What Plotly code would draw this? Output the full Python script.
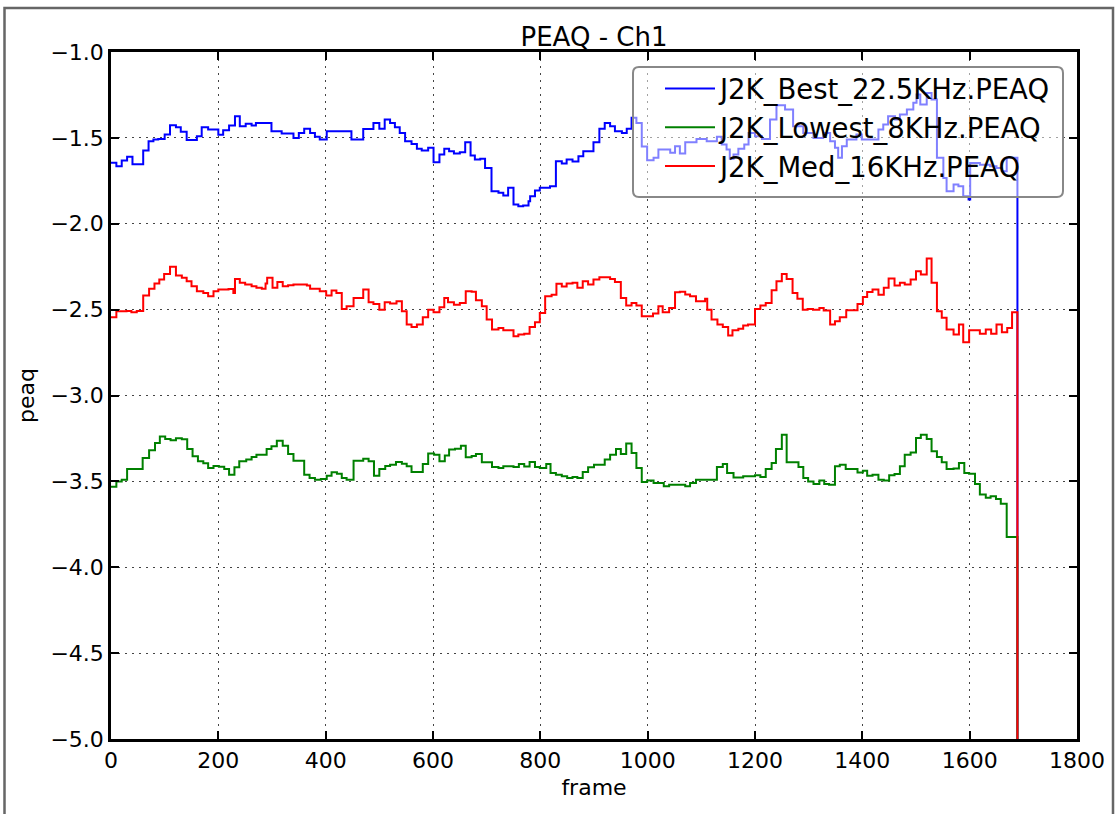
import plotly.graph_objects as go

# ---- data (step starts: frame, value) ----
best_x = [0, 10, 20, 30, 40, 60, 70, 79, 88, 100, 110, 121, 130, 141, 160, 169, 181, 200, 209, 220,
          231, 240, 251, 262, 270, 299, 318, 340, 350, 360, 371, 380, 389, 402, 448, 470, 489, 500, 510, 520,
          529, 538, 548, 560, 570, 579, 591, 601, 612, 621, 630, 639, 650, 660, 670, 678, 688, 697, 709, 722,
          731, 740, 750, 759, 768, 778, 781, 790, 799, 818, 829, 840, 849, 860, 871, 880, 899, 910, 920, 930,
          939, 952, 961, 970, 979, 989, 999, 1011, 1020, 1042, 1051, 1060, 1070, 1091, 1110, 1129, 1138, 1147, 1153, 1160,
          1169, 1180, 1188, 1200, 1213, 1228, 1240, 1256, 1271, 1290, 1309, 1327, 1340, 1349, 1355, 1362, 1371, 1389, 1399, 1430,
          1439, 1448, 1461, 1470, 1483, 1495, 1501, 1508, 1520, 1529, 1539, 1551, 1557, 1570, 1579, 1588, 1598, 1601, 1619, 1638,
          1650, 1660, 1669, 1689]
best_y = [-1.645, -1.665, -1.632, -1.61, -1.653, -1.574, -1.519, -1.51, -1.506, -1.48, -1.426, -1.438, -1.465, -1.512, -1.49, -1.438, -1.451, -1.482, -1.455, -1.428,
          -1.374, -1.432, -1.418, -1.428, -1.414, -1.461, -1.475, -1.5, -1.471, -1.447, -1.471, -1.494, -1.51, -1.461, -1.51, -1.449, -1.413, -1.447, -1.393, -1.413,
          -1.438, -1.471, -1.519, -1.535, -1.564, -1.574, -1.558, -1.642, -1.597, -1.564, -1.578, -1.591, -1.583, -1.525, -1.603, -1.626, -1.622, -1.675, -1.811, -1.82,
          -1.836, -1.791, -1.888, -1.898, -1.894, -1.869, -1.84, -1.807, -1.791, -1.781, -1.636, -1.649, -1.626, -1.638, -1.607, -1.578, -1.525, -1.447, -1.413, -1.432,
          -1.461, -1.471, -1.447, -1.383, -1.413, -1.55, -1.63, -1.616, -1.568, -1.587, -1.549, -1.591, -1.525, -1.506, -1.519, -1.494, -1.539, -1.568, -1.622, -1.597,
          -1.564, -1.539, -1.471, -1.49, -1.506, -1.393, -1.31, -1.335, -1.432, -1.471, -1.5, -1.471, -1.519, -1.558, -1.616, -1.549, -1.51, -1.48, -1.51, -1.451,
          -1.422, -1.374, -1.393, -1.364, -1.335, -1.296, -1.248, -1.306, -1.238, -1.277, -1.616, -1.733, -1.811, -1.772, -1.782, -1.84, -1.859, -1.646, -1.656, -1.665,
          -1.675, -1.694, -1.616, -6.0]

lowest_x = [0, 10, 20, 30, 59, 71, 82, 91, 101, 111, 121, 132, 142, 152, 162, 172, 181, 191, 201, 211,
            220, 230, 239, 252, 262, 271, 290, 299, 309, 320, 330, 340, 360, 370, 380, 391, 402, 411, 421, 430,
            439, 452, 470, 480, 490, 500, 511, 520, 531, 542, 551, 560, 581, 591, 602, 612, 622, 630, 641, 652,
            661, 672, 680, 691, 710, 722, 731, 750, 760, 770, 780, 790, 799, 811, 819, 829, 840, 850, 860, 869,
            879, 889, 900, 920, 930, 941, 950, 960, 970, 979, 989, 999, 1011, 1030, 1040, 1070, 1079, 1090, 1129, 1140,
            1148, 1160, 1178, 1200, 1210, 1220, 1231, 1239, 1250, 1259, 1281, 1290, 1299, 1309, 1320, 1329, 1338, 1349, 1358, 1369,
            1391, 1401, 1409, 1419, 1430, 1440, 1450, 1460, 1470, 1479, 1490, 1500, 1509, 1520, 1529, 1539, 1548, 1557, 1570, 1580,
            1590, 1599, 1610, 1619, 1630, 1639, 1649, 1658, 1669, 1689]
lowest_y = [-3.532, -3.5, -3.49, -3.428, -3.364, -3.319, -3.276, -3.238, -3.253, -3.26, -3.249, -3.255, -3.311, -3.354, -3.383, -3.395, -3.422, -3.41, -3.415, -3.428,
            -3.461, -3.418, -3.383, -3.373, -3.358, -3.345, -3.311, -3.296, -3.263, -3.292, -3.341, -3.38, -3.461, -3.48, -3.49, -3.486, -3.467, -3.447, -3.455, -3.48,
            -3.49, -3.38, -3.368, -3.383, -3.467, -3.428, -3.41, -3.403, -3.387, -3.397, -3.412, -3.445, -3.399, -3.338, -3.345, -3.383, -3.35, -3.315, -3.31, -3.292,
            -3.36, -3.352, -3.341, -3.389, -3.416, -3.422, -3.412, -3.416, -3.399, -3.414, -3.387, -3.416, -3.422, -3.399, -3.451, -3.461, -3.47, -3.48, -3.474, -3.48,
            -3.445, -3.418, -3.403, -3.373, -3.345, -3.311, -3.341, -3.28, -3.335, -3.422, -3.503, -3.495, -3.51, -3.529, -3.519, -3.529, -3.51, -3.49, -3.416, -3.399,
            -3.451, -3.477, -3.47, -3.465, -3.474, -3.428, -3.393, -3.311, -3.228, -3.389, -3.416, -3.48, -3.5, -3.515, -3.495, -3.515, -3.519, -3.412, -3.403, -3.428,
            -3.449, -3.438, -3.467, -3.462, -3.49, -3.495, -3.465, -3.457, -3.412, -3.345, -3.332, -3.247, -3.228, -3.253, -3.325, -3.358, -3.389, -3.428, -3.425, -3.393,
            -3.451, -3.455, -3.515, -3.577, -3.596, -3.587, -3.603, -3.631, -3.824, -6.0]

med_x = [0, 10, 29, 38, 48, 60, 71, 81, 90, 99, 110, 121, 132, 141, 150, 160, 172, 181, 191, 200,
         219, 228, 231, 240, 250, 262, 271, 281, 288, 291, 301, 310, 320, 330, 340, 365, 371, 389, 401, 411,
         420, 430, 439, 452, 470, 480, 489, 500, 510, 520, 532, 542, 551, 560, 570, 581, 591, 601, 612, 621,
         628, 639, 650, 661, 672, 680, 691, 700, 710, 722, 731, 750, 759, 770, 780, 790, 799, 809, 821, 830,
         840, 849, 860, 869, 879, 889, 899, 910, 930, 939, 950, 960, 970, 979, 989, 1010, 1020, 1028, 1040, 1051,
         1060, 1070, 1079, 1090, 1107, 1111, 1119, 1130, 1140, 1150, 1158, 1169, 1178, 1187, 1200, 1210, 1220, 1231, 1240, 1250,
         1259, 1270, 1279, 1289, 1298, 1308, 1320, 1328, 1340, 1349, 1358, 1370, 1391, 1401, 1409, 1419, 1430, 1440, 1449, 1460,
         1470, 1479, 1490, 1500, 1509, 1520, 1529, 1539, 1548, 1557, 1570, 1580, 1588, 1599, 1619, 1630, 1640, 1650, 1660, 1670,
         1679, 1689]
med_y = [-2.545, -2.51, -2.508, -2.515, -2.508, -2.418, -2.379, -2.348, -2.325, -2.292, -2.251, -2.302, -2.315, -2.335, -2.364, -2.393, -2.403, -2.422, -2.393, -2.383,
         -2.38, -2.403, -2.321, -2.344, -2.354, -2.364, -2.373, -2.379, -2.348, -2.315, -2.373, -2.339, -2.364, -2.358, -2.354, -2.36, -2.379, -2.393, -2.418, -2.389,
         -2.403, -2.496, -2.481, -2.432, -2.383, -2.457, -2.467, -2.5, -2.457, -2.465, -2.451, -2.51, -2.587, -2.601, -2.587, -2.545, -2.5, -2.515, -2.486, -2.432,
         -2.457, -2.471, -2.461, -2.393, -2.396, -2.445, -2.48, -2.558, -2.616, -2.607, -2.62, -2.655, -2.645, -2.64, -2.601, -2.573, -2.519, -2.422, -2.413, -2.35,
         -2.366, -2.348, -2.344, -2.373, -2.335, -2.354, -2.325, -2.311, -2.321, -2.339, -2.432, -2.476, -2.461, -2.476, -2.539, -2.523, -2.481, -2.515, -2.49, -2.399,
         -2.396, -2.412, -2.422, -2.451, -2.437, -2.5, -2.558, -2.587, -2.601, -2.651, -2.62, -2.612, -2.593, -2.587, -2.496, -2.476, -2.461, -2.387, -2.335, -2.292,
         -2.321, -2.403, -2.437, -2.5, -2.497, -2.5, -2.49, -2.505, -2.587, -2.568, -2.545, -2.503, -2.467, -2.426, -2.397, -2.383, -2.413, -2.373, -2.319, -2.36,
         -2.344, -2.354, -2.325, -2.276, -2.296, -2.203, -2.344, -2.51, -2.548, -2.616, -2.645, -2.587, -2.69, -2.62, -2.64, -2.616, -2.64, -2.587, -2.632, -2.607,
         -2.515, -6.0]

series_names = ["J2K_Best_22.5KHz.PEAQ", "J2K_Lowest_8KHz.PEAQ", "J2K_Med_16KHz.PEAQ"]
series_colors = ["#0000ff", "#008000", "#ff0000"]
x_ticks = [0, 200, 400, 600, 800, 1000, 1200, 1400, 1600, 1800]
y_ticks = [-1.0, -1.5, -2.0, -2.5, -3.0, -3.5, -4.0, -4.5, -5.0]

FONT = "DejaVu Sans"

fig = go.Figure()
for name, xs, ys, col in zip(series_names, [best_x, lowest_x, med_x], [best_y, lowest_y, med_y], series_colors):
    fig.add_trace(go.Scatter(x=xs, y=ys, mode="lines", name=name, legendgroup=name,
                             line=dict(color=col, width=2, shape="hv")))

W, H = 1117, 814
L, R, T, B = 111, 40, 52, 75
pw, ph = W - L - R, H - T - B


def px2paper(px, py):
    return (px - L) / pw, (H - B - py) / ph


# outer frame
fx0, fy1 = px2paper(4.5, 8)
fx1, fy0 = px2paper(1113, 830)

# legend box (rounded rectangle)
lx0, ly1 = px2paper(633, 67)
lx1, ly0 = px2paper(1063, 197)
rx, ry = 6 / pw, 6 / ph
legend_path = (
    f"M {lx0 + rx},{ly1} L {lx1 - rx},{ly1} Q {lx1},{ly1} {lx1},{ly1 - ry} "
    f"L {lx1},{ly0 + ry} Q {lx1},{ly0} {lx1 - rx},{ly0} "
    f"L {lx0 + rx},{ly0} Q {lx0},{ly0} {lx0},{ly0 + ry} "
    f"L {lx0},{ly1 - ry} Q {lx0},{ly1} {lx0 + rx},{ly1} Z"
)

axis_common = dict(
    showline=True, linecolor="black", linewidth=2.5, mirror="ticks",
    ticks="inside", ticklen=8, tickwidth=1.5, tickcolor="black",
    showgrid=True, gridcolor="#444444", gridwidth=1, griddash="2px,5px",
    zeroline=False, automargin=False,
    tickfont=dict(family=FONT, size=22, color="black"),
)

leg_x, leg_y = px2paper(660, 64)

fig.update_layout(
    width=W, height=H,
    margin=dict(l=L, r=R, t=T, b=B),
    paper_bgcolor="white", plot_bgcolor="white",
    font=dict(family=FONT, color="black"),
    title=dict(text="PEAQ - Ch1", x=0.5, xref="paper", xanchor="center",
               y=1 - 37 / H, yref="container", yanchor="middle",
               font=dict(family=FONT, size=26, color="black")),
    xaxis=dict(range=[0, 1800], tickvals=x_ticks, ticktext=[str(v) for v in x_ticks],
               title=dict(text="frame", font=dict(family=FONT, size=22), standoff=8),
               **axis_common),
    yaxis=dict(range=[-5, -1], tickvals=y_ticks, ticktext=["\u2212%.1f" % abs(v) for v in y_ticks],
               title=dict(text="peaq", font=dict(family=FONT, size=22), standoff=10),
               **axis_common),
    legend=dict(x=leg_x, y=leg_y, xanchor="left", yanchor="top",
                bgcolor="rgba(0,0,0,0)", borderwidth=0,
                font=dict(family=FONT, size=27.5, color="black"), tracegroupgap=0,
                itemwidth=50),
    showlegend=True,
    shapes=[
        dict(type="rect", xref="paper", yref="paper", x0=fx0, x1=fx1, y0=fy0, y1=fy1,
             line=dict(color="#666666", width=2.5), fillcolor="rgba(0,0,0,0)", layer="below"),
        dict(type="path", xref="paper", yref="paper", path=legend_path,
             line=dict(color="#888888", width=2), fillcolor="rgba(255,255,255,0.5)", layer="above"),
    ],
)

fig.write_html("out.html", config={"displayModeBar": False},
               post_script="document.body.style.margin='0';")
